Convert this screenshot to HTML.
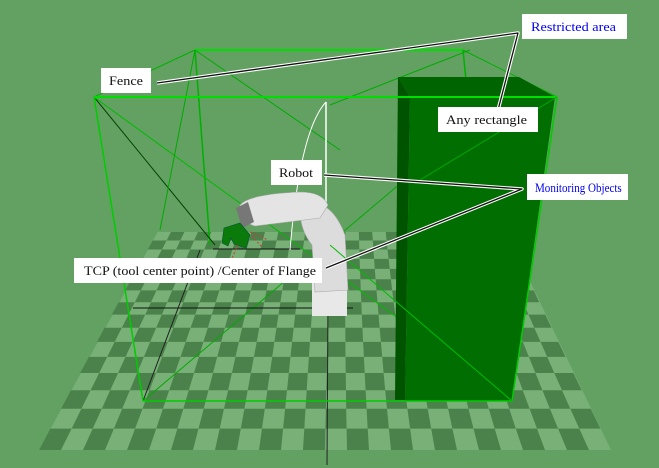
<!DOCTYPE html>
<html><head><meta charset="utf-8"><style>
html,body{margin:0;padding:0;background:#62a162;}
svg{display:block}
text{font-family:"Liberation Serif",serif;font-size:13px}
</style></head><body>
<svg id="s" width="659" height="468" viewBox="0 0 659 468" xmlns="http://www.w3.org/2000/svg">
<rect width="659" height="468" fill="#62a162"/>
<g id="floor"></g>
<g fill="none" stroke-width="1">
<line x1="195" y1="50" x2="463" y2="50" stroke="#00dd00" stroke-width="2"/>
<line x1="195" y1="50" x2="210" y2="245" stroke="#00b000" stroke-width="1.5"/>
<line x1="463" y1="50" x2="466" y2="80" stroke="#00b000" stroke-width="1.5"/>
<line x1="195" y1="50" x2="94" y2="97" stroke="#00b000"/>
<line x1="463" y1="50" x2="557" y2="97" stroke="#00b000"/>
<line x1="195" y1="50" x2="340" y2="150" stroke="#00aa00"/>
<line x1="94" y1="97" x2="215" y2="245" stroke="#004400"/>
<line x1="94" y1="97" x2="512" y2="401" stroke="#00bb00"/>
<line x1="143" y1="401" x2="440" y2="150" stroke="#00aa00"/>
<line x1="160" y1="230" x2="195" y2="50" stroke="#00aa00"/>
<line x1="213" y1="249" x2="300" y2="249" stroke="#111"/>
<line x1="133" y1="308" x2="353" y2="308" stroke="#111"/>
<line x1="143" y1="401" x2="200" y2="250" stroke="#222"/>
<line x1="328" y1="300" x2="327" y2="465" stroke="#222"/>
<line x1="330" y1="105" x2="470" y2="50" stroke="#00aa00"/>
</g>
<g>
<line x1="326" y1="102" x2="326" y2="300" stroke="#fff" stroke-width="1.5"/>
<path d="M326 102 Q300 130 290 250" stroke="#fff" fill="none"/>
<path d="M312 268 L347 268 L347 316 L312 316 Z" fill="#e8e8e8"/>
<path d="M300 205 Q330 195 345 235 L348 290 L315 292 L312 245 Q300 230 300 210 Z" fill="#dcdcdc" stroke="#aaa" stroke-width="0.6"/>
<path d="M240 205 Q250 194 300 192 Q322 192 328 205 L320 218 L255 226 Q240 222 240 205 Z" fill="#e4e4e4" stroke="#aaa" stroke-width="0.6"/>
<path d="M236 208 L248 202 L254 222 L242 228 Z" fill="#777"/>
<path d="M224 228 L240 223 L250 235 L246 248 L234 244 L231 238 L228 246 L222 243 Z" fill="#0a7a0a" stroke="#053" stroke-width="0.6"/>
<path d="M250 232 L268 240 M252 236 L262 247 M238 245 L232 258" stroke="#e03030" stroke-dasharray="2,2" fill="none"/>
</g>
<polygon points="398,77 519,77 555,97 410,97" fill="#006400"/>
<polygon points="398,77 410,97 405,400 395,400" fill="#005400"/>
<polygon points="410,97 555,97 512,401 405,401" fill="#006e00"/>
<line x1="395" y1="401" x2="512" y2="401" stroke="#111"/>
<g fill="none">
<line x1="94" y1="97" x2="557" y2="97" stroke="#00dd00" stroke-width="2"/>
<line x1="94" y1="97" x2="143" y2="401" stroke="#00cc00" stroke-width="1.5"/>
<line x1="557" y1="97" x2="512" y2="401" stroke="#00cc00" stroke-width="1.5"/>
<line x1="143" y1="401" x2="512" y2="401" stroke="#00cc00" stroke-width="1.5"/>
<line x1="330" y1="245" x2="512" y2="401" stroke="#00bb00"/>
<line x1="420" y1="180" x2="557" y2="97" stroke="#00aa00"/>
</g>
<g fill="none" stroke-linejoin="round">
<polyline points="157,83 518,33 498,110" stroke="#fff" stroke-width="3.5"/>
<polyline points="157,83 518,33 498,110" stroke="#111" stroke-width="1.3"/>
<polyline points="324,175 522,189 326,268" stroke="#fff" stroke-width="3.5"/>
<polyline points="324,175 522,189 326,268" stroke="#111" stroke-width="1.3"/>
</g>
<g>
<rect x="522" y="14" width="105" height="25" fill="#fff"/>
<text x="531" y="31" fill="#0000ee" textLength="85" lengthAdjust="spacingAndGlyphs">Restricted area</text>
<rect x="101" y="68" width="50" height="25" fill="#fff"/>
<text x="109" y="85" fill="#111" textLength="34" lengthAdjust="spacingAndGlyphs">Fence</text>
<rect x="438" y="107" width="100" height="25" fill="#fff"/>
<text x="446" y="124" fill="#111" textLength="81" lengthAdjust="spacingAndGlyphs">Any rectangle</text>
<rect x="271" y="160" width="51" height="25" fill="#fff"/>
<text x="279" y="177" fill="#111" textLength="34" lengthAdjust="spacingAndGlyphs">Robot</text>
<rect x="527" y="174" width="101" height="26" fill="#fff"/>
<text x="535" y="192" fill="#0000ee" transform="translate(535 192) scale(0.85 1) translate(-535 -192)">Monitoring Objects</text>
<rect x="74" y="258" width="248" height="25" fill="#fff"/>
<text x="84" y="275" fill="#111" textLength="232" lengthAdjust="spacingAndGlyphs">TCP (tool center point) /Center of Flange</text>
</g>
</svg>
<script>
(function(){
var g=document.getElementById('floor'),ns='http://www.w3.org/2000/svg';
var k=13966,H=-108.6,zn=25,R=16,C=26;
function P(u,z){var y=H+k/z;var xc=325+(332-325)*(z-zn)/R;var w=22*zn/z;return [xc+u*w,y];}
var bg=[P(-C/2,zn),P(C/2,zn),P(C/2,zn+R),P(-C/2,zn+R)];
var e=document.createElementNS(ns,'polygon');
e.setAttribute('points',bg.map(function(p){return p.join(',')}).join(' '));
e.setAttribute('fill','#78b078');g.appendChild(e);
for(var r=0;r<R;r++)for(var c=0;c<C;c++){if((r+c)%2)continue;
var u=c-C/2,z=zn+r;var a=[P(u,z),P(u+1,z),P(u+1,z+1),P(u,z+1)];
var p=document.createElementNS(ns,'polygon');
p.setAttribute('points',a.map(function(q){return q[0].toFixed(1)+','+q[1].toFixed(1)}).join(' '));
p.setAttribute('fill','#4b824b');g.appendChild(p);}
})();
</script>
</body></html>
